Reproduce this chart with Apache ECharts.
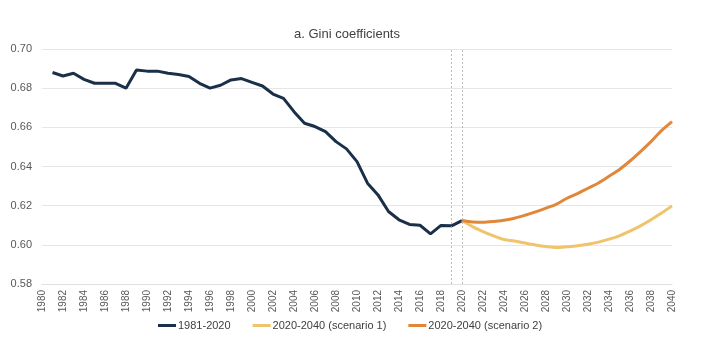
<!DOCTYPE html>
<html>
<head>
<meta charset="utf-8">
<script src="https://cdn.jsdelivr.net/npm/echarts@6/dist/echarts.min.js"></script>
<style>html,body{margin:0;padding:0;background:#fff;}#c{width:704px;height:341px;}</style>
</head>
<body>
<div id="c"></div>
<script>
var years = [];
for (var y = 1980; y <= 2040; y++) years.push(String(y));
// 1981-2020
var giniHist = [0.6880, 0.6862, 0.6876, 0.6845, 0.6825, 0.6825, 0.6825, 0.6800, 0.6893, 0.6887,
  0.6887, 0.6876, 0.6870, 0.6860, 0.6825, 0.6800, 0.6815, 0.6842, 0.6849, 0.6830,
  0.6811, 0.6770, 0.6748, 0.6680, 0.6621, 0.6604, 0.6578, 0.6527, 0.6490, 0.6425,
  0.6315, 0.6255, 0.6170, 0.6128, 0.6104, 0.6100, 0.6056, 0.6099, 0.6097, 0.6124];
// 2020-2040
var scen1 = [0.6124, 0.6093, 0.6068, 0.6046, 0.6027, 0.6020, 0.6009, 0.5999, 0.5991, 0.5986,
  0.5990, 0.5995, 0.6003, 0.6014, 0.6029, 0.6046, 0.6070, 0.6097, 0.6128, 0.6162, 0.6199];
var scen2 = [0.6124, 0.6117, 0.6115, 0.6119, 0.6126, 0.6136, 0.6151, 0.6168, 0.6187, 0.6208,
  0.6238, 0.6262, 0.6289, 0.6316, 0.6350, 0.6385, 0.6428, 0.6476, 0.6527, 0.6583, 0.6629];
var yTicks = ['0.58','0.60','0.62','0.64','0.66','0.68','0.70'];

function pad(arr, startYear) {
  var out = [];
  for (var i = 0; i < years.length; i++) {
    var idx = (1980 + i) - startYear;
    out.push(idx >= 0 && idx < arr.length ? arr[idx] : null);
  }
  return out;
}

var chart = echarts.init(document.getElementById('c'));
chart.setOption({
  animation: false,
  backgroundColor: '#ffffff',
  textStyle: { fontFamily: 'Liberation Sans, Arial, sans-serif' },
  title: {
    text: 'a. Gini coefficients',
    left: 289, top: 23,
    textStyle: { fontSize: 13, fontWeight: 'normal', color: '#404040', fontFamily: 'Liberation Sans, Arial, sans-serif' }
  },
  legend: {
    bottom: 5, left: 153,
    itemWidth: 18, itemHeight: 3, itemGap: 22,
    icon: 'rect',
    textStyle: { fontSize: 11, color: '#404040', padding: [0, 0, 0, -3] },
    data: ['1981-2020', '2020-2040 (scenario 1)', '2020-2040 (scenario 2)']
  },
  grid: { left: 42, right: 32, top: 49, bottom: 57, containLabel: false },
  xAxis: {
    type: 'category',
    data: years,
    boundaryGap: false,
    axisLine: { show: true, lineStyle: { color: '#e0e0e0' } },
    axisTick: { show: false },
    axisLabel: { interval: 1, rotate: 90, fontSize: 10, color: '#595959', margin: 6 }
  },
  yAxis: {
    type: 'value',
    min: 0.58, max: 0.70, interval: 0.02,
    axisLine: { show: false },
    axisTick: { show: false },
    splitLine: { lineStyle: { color: '#e6e6e6' } },
    axisLabel: { fontSize: 11, color: '#595959', margin: 10, formatter: function (v) { return v.toFixed(2); } }
  },
  series: [
    {
      name: '1981-2020', type: 'line', data: pad(giniHist, 1981),
      showSymbol: false, lineStyle: { width: 3, color: '#1a3049' }, itemStyle: { color: '#1a3049' },
      z: 3,
      markLine: {
        silent: true, symbol: 'none', label: { show: false },
        lineStyle: { type: [2, 2], color: '#aaaaaa', width: 0.8 },
        data: [{ xAxis: '2019' }, { xAxis: '2020' }]
      }
    },
    {
      name: '2020-2040 (scenario 1)', type: 'line', data: pad(scen1, 2020),
      showSymbol: false, smooth: 0.3, lineStyle: { width: 3, color: '#f0c36d' }, itemStyle: { color: '#f0c36d' }
    },
    {
      name: '2020-2040 (scenario 2)', type: 'line', data: pad(scen2, 2020),
      showSymbol: false, smooth: 0.3, lineStyle: { width: 3, color: '#e0873a' }, itemStyle: { color: '#e0873a' }
    }
  ]
});
</script>
</body>
</html>
